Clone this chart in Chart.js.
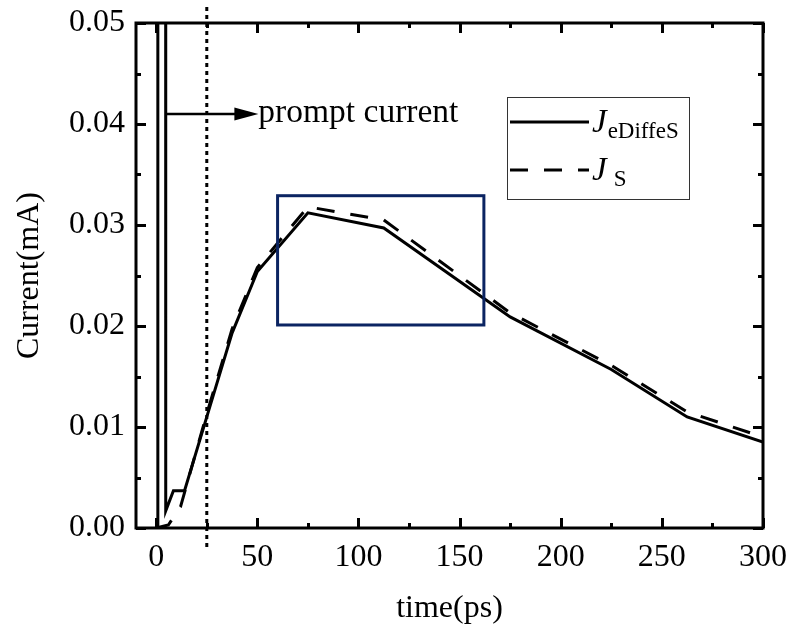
<!DOCTYPE html>
<html>
<head>
<meta charset="utf-8">
<script src="https://cdn.jsdelivr.net/npm/chart.js@4/dist/chart.umd.min.js"></script>
<style>
  html, body { margin: 0; padding: 0; background: #ffffff; }
  #wrap { width: 789px; height: 628px; position: relative; }
</style>
</head>
<body>
<div id="wrap"><canvas id="chart" width="789" height="628"></canvas></div>
<script>
// Total current including the prompt spike (ps, mA)
const timeEDS    = [0.5, 0.8, 4.4, 4.7, 8.5, 14, 25, 37.5, 50, 75, 112.5, 175, 225, 262.5, 300];
const currentEDS = [0, 0.6, 0.6, 0.0017, 0.0037, 0.0037, 0.0110, 0.0193, 0.0254, 0.0312, 0.0297, 0.0209, 0.0157, 0.0110, 0.0085];

// Source current (ps, mA)
const timeS    = [0, 6, 12, 25, 37.5, 50, 75, 112.5, 175, 225, 262.5, 300];
const currentS = [0, 0.0003, 0.0021, 0.0113, 0.0197, 0.0258, 0.0318, 0.0305, 0.0213, 0.0161, 0.0115, 0.0090];

// Axis ticks
const xTicks      = [0, 50, 100, 150, 200, 250, 300];
const xMinorTicks = [25, 75, 125, 175, 225, 275];
const yTicks      = [0, 0.01, 0.02, 0.03, 0.04, 0.05];
const yMinorTicks = [0.005, 0.015, 0.025, 0.035, 0.045];

// Legend text: italic symbol + subscript
const seriesSymbols = ['J', 'J'];
const seriesSubs    = ['eDiffeS', 'S'];

// Annotations (data units)
const promptTime   = 25;
const promptLabel  = 'prompt current';
const arrowStart   = [5, 0.041];
const arrowEnd     = [50.5, 0.041];
const focusBox     = { x0: 60, x1: 162, y0: 0.0201, y1: 0.0329 };

const SERIF = "'Liberation Serif', 'Times New Roman', serif";

const decorations = {
  id: 'decorations',
  afterDatasetsDraw(chart) {
    const { ctx, chartArea: a, scales: { x, y } } = chart;
    ctx.save();

    // highlighted region
    ctx.strokeStyle = '#0b2462';
    ctx.lineWidth = 3;
    ctx.lineJoin = 'miter';
    const bx0 = x.getPixelForValue(focusBox.x0), bx1 = x.getPixelForValue(focusBox.x1);
    const by0 = y.getPixelForValue(focusBox.y0), by1 = y.getPixelForValue(focusBox.y1);
    ctx.strokeRect(bx0, by1, bx1 - bx0, by0 - by1);

    // frame
    ctx.strokeStyle = '#000';
    ctx.lineWidth = 3;
    ctx.strokeRect(a.left, a.top, a.right - a.left, a.bottom - a.top);

    // inward ticks on all four sides
    const tick = (vals, len) => {
      vals.forEach(v => {
        const px = Math.round(x.getPixelForValue(v)) + 0.5;
        ctx.beginPath();
        ctx.moveTo(px, a.bottom); ctx.lineTo(px, a.bottom - len);
        ctx.moveTo(px, a.top); ctx.lineTo(px, a.top + len);
        ctx.stroke();
      });
    };
    const ytick = (vals, len) => {
      vals.forEach(v => {
        const py = Math.round(y.getPixelForValue(v)) + 0.5;
        ctx.beginPath();
        ctx.moveTo(a.left, py); ctx.lineTo(a.left + len, py);
        ctx.moveTo(a.right, py); ctx.lineTo(a.right - len, py);
        ctx.stroke();
      });
    };
    ctx.lineWidth = 3;
    tick(xTicks, 10); tick(xMinorTicks, 5);
    ytick(yTicks, 10); ytick(yMinorTicks, 5);

    // dotted marker line
    const dx = x.getPixelForValue(promptTime);
    ctx.setLineDash([4, 4]);
    ctx.lineWidth = 3;
    ctx.beginPath();
    ctx.moveTo(dx, 7); ctx.lineTo(dx, 548);
    ctx.stroke();
    ctx.setLineDash([]);

    // arrow
    const ax0 = x.getPixelForValue(arrowStart[0]);
    const ax1 = x.getPixelForValue(arrowEnd[0]);
    const ay = y.getPixelForValue(arrowStart[1]);
    ctx.lineWidth = 2.5;
    ctx.beginPath();
    ctx.moveTo(ax0, ay); ctx.lineTo(ax1 - 20, ay);
    ctx.stroke();
    ctx.fillStyle = '#000';
    ctx.beginPath();
    ctx.moveTo(ax1, ay);
    ctx.lineTo(ax1 - 24, ay - 6.5);
    ctx.lineTo(ax1 - 24, ay + 6.5);
    ctx.closePath();
    ctx.fill();

    ctx.font = '33.5px ' + SERIF;
    ctx.textBaseline = 'alphabetic';
    ctx.textAlign = 'left';
    ctx.fillText(promptLabel, ax1, ay + 8);

    // legend
    const lx = 507, ly = 97, lw = 182, lh = 102;
    ctx.fillStyle = '#fff';
    ctx.fillRect(lx, ly, lw, lh);
    ctx.strokeStyle = '#333';
    ctx.lineWidth = 1;
    ctx.strokeRect(lx + 0.5, ly + 0.5, lw, lh);

    const rows = [122, 170];
    chart.data.datasets.forEach((ds, i) => {
      const ry = rows[i];
      ctx.strokeStyle = ds.borderColor;
      ctx.lineWidth = ds.borderWidth;
      ctx.setLineDash(ds.borderDash || []);
      ctx.beginPath();
      ctx.moveTo(510, ry); ctx.lineTo(589, ry);
      ctx.stroke();
      ctx.setLineDash([]);
      ctx.fillStyle = '#000';
      ctx.font = 'italic 33px ' + SERIF;
      ctx.fillText(seriesSymbols[i], 592, ry + 10);
      const jw = ctx.measureText(seriesSymbols[i]).width;
      ctx.font = '23px ' + SERIF;
      ctx.fillText(seriesSubs[i], 592 + jw + 1 + (i === 1 ? 6 : 0), ry + 16);
    });

    ctx.restore();
  }
};

new Chart(document.getElementById('chart'), {
  type: 'line',
  data: {
    datasets: [
      {
        label: 'J eDiffeS',
        data: timeEDS.map((t, i) => ({ x: t, y: currentEDS[i] })),
        borderColor: '#000',
        borderWidth: 3,
        pointRadius: 0,
        tension: 0,
        borderJoinStyle: 'miter',
        fill: false
      },
      {
        label: 'J S',
        data: timeS.map((t, i) => ({ x: t, y: currentS[i] })),
        borderColor: '#000',
        borderWidth: 3,
        borderDash: [18, 16],
        pointRadius: 0,
        tension: 0,
        borderJoinStyle: 'miter',
        fill: false
      }
    ]
  },
  options: {
    responsive: false,
    animation: false,
    devicePixelRatio: 1,
    layout: { padding: { top: 23, right: 26, bottom: 0, left: 0 } },
    plugins: { legend: { display: false }, tooltip: { enabled: false } },
    scales: {
      x: {
        type: 'linear',
        min: -10,
        max: 300,
        grid: { display: false, drawTicks: false, tickLength: 0 },
        border: { display: false },
        afterBuildTicks: s => { s.ticks = xTicks.map(v => ({ value: v })); },
        afterFit: s => { s.height = 100; s.paddingLeft = 0; s.paddingRight = 0; },
        ticks: {
          color: '#000',
          padding: 10,
          maxRotation: 0,
          autoSkip: false,
          font: { family: SERIF, size: 32 },
          callback: v => String(v)
        },
        title: {
          display: true,
          text: 'time(ps)',
          color: '#000',
          padding: { top: 4, bottom: 0 },
          font: { family: SERIF, size: 32 }
        }
      },
      y: {
        type: 'linear',
        min: 0,
        max: 0.05,
        grid: { display: false, drawTicks: false, tickLength: 0 },
        border: { display: false },
        afterBuildTicks: s => { s.ticks = yTicks.map(v => ({ value: v })); },
        afterFit: s => { s.width = 136; s.paddingTop = 0; s.paddingBottom = 0; },
        ticks: {
          color: '#000',
          padding: 11,
          autoSkip: false,
          font: { family: SERIF, size: 32 },
          callback: v => Number(v).toFixed(2)
        },
        title: {
          display: true,
          text: 'Current(mA)',
          color: '#000',
          padding: { top: 10, bottom: 0 },
          font: { family: SERIF, size: 32 }
        }
      }
    }
  },
  plugins: [decorations]
});
</script>
</body>
</html>
